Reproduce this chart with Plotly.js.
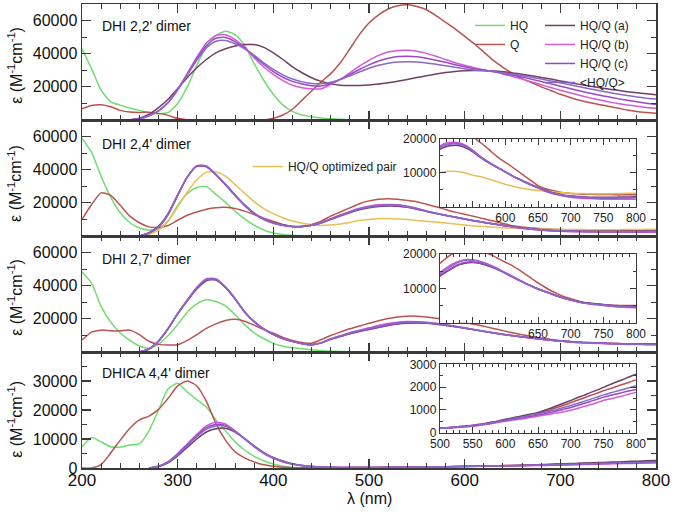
<!DOCTYPE html>
<html>
<head>
<meta charset="utf-8">
<script src="https://cdn.plot.ly/plotly-3.0.1.min.js"></script>
<style>html,body{margin:0;padding:0;background:#fff;}#chart{width:675px;height:512px;}</style>
</head>
<body>
<div id="chart"></div>
<script>
const _ = null;
// wavelength grid (nm)
const WL = [200,210,220,230,240,250,260,270,280,290,300,310,320,330,340,350,360,370,380,390,400,410,420,430,440,450,460,470,480,490,500,510,520,530,540,550,560,570,580,590,600,610,620,630,640,650,660,670,680,690,700,710,720,730,740,750,760,770,780,790,800];

// Panel 1: DHI 2,2' dimer
const p1_HQ  = [43000,31000,18000,11000,9000,7200,5800,4700,3800,4500,10000,20000,33000,44000,51000,53500,51500,45000,34000,24000,15500,9000,5200,3000,2000,1200,700,400,200,100,0];
const p1_Q   = [6700,8800,9200,8000,5800,4800,4600,4600,4000,2800,1000,200,0,0,0,0,0,0,0,0,1000,3000,6500,12000,17500,23000,28000,34500,43000,51500,58500,63500,67000,69000,69500,68500,66500,63000,59000,55000,50500,46000,41000,36000,31800,28200,25000,22500,20000,17800,15500,13600,11900,10500,9400,8300,7200,6000,5100,4500,4000];
const p1_a   = [_,_,_,_,_,0,1000,3500,7500,12500,19000,25500,31500,36500,40500,43000,44700,45500,45500,43800,40500,36500,32000,28500,25500,23300,21800,21000,20800,20800,21100,21700,22500,23400,24500,25600,26700,27700,28600,29300,29700,29900,29900,29600,29100,28400,27600,26700,25700,24700,23600,22500,21500,20500,19600,18700,17900,17100,16400,15800,15200];
const p1_b   = [_,_,_,_,_,0,700,2500,5500,10500,18500,28000,38000,46500,51000,51500,48500,44000,37500,32000,27500,23800,21000,19500,18800,18800,21500,24500,28500,32500,36000,39000,41000,42000,42100,41500,40200,38500,36500,34600,33000,31600,30300,29200,27800,26300,24700,23000,21300,19600,18000,16400,14900,13500,12200,11000,10000,9100,8300,7600,7100];
const p1_c   = [_,_,_,_,_,0,700,2500,5500,10500,18300,27500,37000,45000,49300,49800,47300,43500,38500,33500,29200,25800,23300,21700,20700,20500,22000,24500,27500,30500,33300,35600,37300,38300,38500,38200,37300,36100,34800,33400,32100,30900,30000,29200,28200,27100,25900,24600,23200,21800,20400,19000,17600,16300,15100,14000,12900,11900,11000,10100,9300];
const p1_avg = [_,_,_,_,_,0,700,2500,5500,10500,18000,27000,36000,43500,47500,48000,46000,43000,39000,34500,30500,27200,24700,23000,22100,21900,22800,24500,26700,29000,31200,33000,34300,35000,35200,35000,34400,33600,32700,31800,30900,30200,29700,29200,28500,27700,26800,25800,24700,23600,22500,21300,20100,18900,17800,16700,15700,14800,13900,13200,12700];

// Panel 2: DHI 2,4' dimer
const p2_HQ  = [58900,50500,36000,23500,14000,8000,4800,3600,4300,9000,18500,25500,29300,29800,25100,20300,15000,10300,6500,3600,1800,900,400,100,0];
const p2_Q   = [10000,19000,26000,24500,18500,12000,8000,5500,5200,6300,9500,12500,14500,16200,17100,17300,16600,15000,13000,10800,8800,7000,5700,5800,7000,9000,12000,14500,17000,19500,21200,22200,22500,22200,21500,20700,19200,17700,16000,14400,13100,11800,10400,9000,7600,6200,5400,4900,4400,4100,3900,3800,3700,3700,3600,3600,3600,3500,3500,3500,3500];
const p2_a   = [_,_,_,_,_,_,0,2000,6000,13500,24800,35500,42000,41800,37000,31200,24800,18800,13800,10200,8000,6600,5800,5800,6500,7900,10000,12100,14000,15800,17000,17800,18100,18000,17300,16200,14800,13500,12400,11300,10300,9200,8300,7400,6500,5700,5000,4300,3800,3400,3200,3000,2900,2800,2800,2800,2800,2800,2900,2900,3000];
const p2_b   = [_,_,_,_,_,_,0,1700,5300,12800,24300,35500,42500,42300,37200,31000,24400,18400,13400,9900,7700,6400,5600,5600,6400,8000,10400,12700,14800,16700,18000,18800,19000,18800,18000,16700,15100,13700,12500,11300,10200,9100,8100,7200,6300,5500,4700,4000,3500,3100,2800,2600,2500,2400,2300,2200,2200,2200,2200,2200,2200];
const p2_c   = [_,_,_,_,_,_,0,1800,5500,13000,24500,35500,42300,42000,37000,31000,24500,18500,13500,10000,7800,6500,5700,5700,6500,8000,10300,12500,14500,16300,17600,18400,18700,18500,17700,16500,15000,13700,12500,11400,10300,9200,8200,7300,6400,5600,4800,4100,3600,3200,3000,2800,2700,2600,2500,2500,2500,2500,2600,2600,2700];
const p2_avg = [_,_,_,_,_,_,0,1800,5600,13100,24600,35500,42200,42000,37100,31100,24600,18600,13600,10100,7900,6500,5700,5700,6500,8000,10200,12400,14400,16200,17500,18300,18600,18400,17700,16500,15000,13700,12500,11400,10300,9200,8200,7300,6400,5600,4900,4200,3700,3300,3100,2900,2800,2700,2600,2600,2600,2600,2700,2700,2800];
const p2_opt = [_,_,_,_,_,_,0,1000,3500,9000,17500,26500,34000,38400,38600,36200,31000,25800,20700,16500,13500,11000,9000,7700,6800,6400,6700,7300,8200,9300,10000,10400,10500,10300,9900,9300,8900,8400,7800,7200,6600,6100,5700,5300,5000,4800,4600,4400,4200,4100,4000,3900,3900,3800,3800,3800,3800,3900,3900,4000,4000];

// Panel 3: DHI 2,7' dimer
const p3_HQ  = [48300,41500,27500,18000,11500,7000,3600,2300,4700,10000,16500,24000,29000,31500,30500,27800,22500,16500,11500,8000,5200,3500,2500,1900,1300,800,500,300,100];
const p3_Q   = [7200,12000,13200,12800,12800,13200,10500,6500,4600,4200,4400,7000,10500,14200,17000,19000,19700,18600,16200,13500,11300,8800,7000,5800,5300,7500,10000,12000,14000,15700,17300,18900,20200,21100,21600,21600,21100,20400,19600,18600,17600,16700,15500,14200,12900,11600,10400,9300,8400,7600,7000,6400,5900,5600,5400,5200,5100,5000,5000,5000,5000];
const p3_a   = [_,_,_,_,_,_,0,1900,6700,14200,23000,30800,38000,43000,43500,39000,32200,24300,18400,14000,10700,8200,6400,5100,4400,5500,7700,9300,11000,12400,13600,14800,16000,16900,17400,17500,17300,16800,16100,15300,14400,13400,12500,11600,10700,9900,9200,8500,7800,7200,6700,6300,5900,5700,5500,5300,5100,5000,4900,4800,4700];
const p3_b   = [_,_,_,_,_,_,0,1800,6600,14200,23300,31400,39000,44200,44300,39300,32200,24200,18300,13900,10600,8100,6400,5100,4400,5600,8000,9900,11700,13200,14600,16000,17200,18000,18400,18300,17900,17300,16500,15600,14600,13600,12600,11600,10700,9900,9100,8400,7700,7100,6600,6100,5700,5400,5200,5000,4800,4600,4500,4400,4300];
const p3_c   = [_,_,_,_,_,_,0,1800,6500,14000,23000,31000,38500,43500,43800,39000,32000,24000,18200,13800,10500,8000,6300,5000,4300,5500,7800,9500,11200,12600,13800,15000,16200,17100,17600,17700,17400,16900,16200,15300,14400,13400,12400,11500,10600,9800,9100,8400,7700,7100,6600,6200,5800,5600,5400,5200,5000,4900,4800,4700,4600];
const p3_avg = [_,_,_,_,_,_,0,1800,6500,14100,23200,31200,38800,43900,44000,39100,32100,24100,18200,13800,10500,8000,6300,5000,4300,5500,7900,9700,11500,12900,14300,15600,16800,17700,18200,18200,17800,17200,16400,15500,14500,13500,12500,11500,10600,9800,9100,8400,7700,7100,6600,6100,5700,5500,5300,5100,4900,4800,4700,4600,4500];

// Panel 4: DHICA 4,4' dimer
const p4_HQ  = [7300,10500,9000,7300,7200,7900,8300,12800,20000,27300,29200,26200,23600,21000,16600,12800,9000,6200,4000,2500,1400,600,200,0];
const p4_Q   = [0,0,1200,5200,9600,13700,16600,17900,20200,24000,28300,30000,28300,23000,15300,9600,5600,3500,2100,1100,600,250,80,60,60,70,90,110,130,160,190,210,230,250,270,300,340,390,440,500,560,610,670,730,790,850,930,1020,1110,1210,1310,1420,1520,1630,1730,1840,1930,2030,2130,2220,2320];
const p4_a   = [_,_,_,_,_,_,_,0,500,1800,4200,7100,10000,12400,13500,13700,12400,10100,7600,5300,3600,2400,1500,900,550,340,240,195,180,180,190,210,235,260,290,320,360,410,460,520,580,640,700,760,820,880,980,1080,1190,1300,1410,1530,1640,1760,1870,1990,2110,2230,2340,2460,2570];
const p4_b   = [_,_,_,_,_,_,_,0,600,2200,5000,8300,11600,14500,15800,15200,12800,10000,7300,5000,3300,2100,1300,800,500,300,220,180,170,170,180,190,210,230,250,280,310,350,400,450,500,540,580,620,670,720,770,820,870,920,980,1060,1140,1220,1310,1410,1480,1550,1620,1700,1770];
const p4_c   = [_,_,_,_,_,_,_,0,600,2100,4800,8000,11200,13900,15000,14700,12700,10100,7400,5100,3400,2200,1400,850,520,320,230,190,175,175,185,200,220,240,265,295,330,370,420,470,520,570,620,670,720,770,830,890,960,1030,1100,1190,1280,1370,1460,1560,1630,1700,1770,1840,1900];
const p4_avg = [_,_,_,_,_,_,_,0,550,2000,4600,7700,10800,13400,14500,14400,12600,10100,7500,5200,3500,2300,1400,850,520,320,230,190,175,175,185,200,225,250,275,300,340,380,430,490,540,600,650,710,770,830,890,960,1030,1110,1190,1280,1370,1460,1560,1660,1740,1820,1900,1980,2060];

// tick values
const Y_TICKS_DHI = [20000,40000,60000];
const Y_TICKS_DHICA = [0,10000,20000,30000];
const INSET_X = [500,550,600,650,700,750,800];

const NAMES = {HQ:'HQ', Q:'Q', a:'HQ/Q (a)', b:'HQ/Q (b)', c:'HQ/Q (c)', avg:'&lt;HQ/Q&gt;', opt:'HQ/Q optimized pair'};
const COL = {HQ:'#72dc72', Q:'#b85450', a:'#6f3f63', b:'#d45ad8', c:'#9a48c8', avg:'#8a68c6', opt:'#e8bf55'};
const LEG = {HQ:'legend', Q:'legend', a:'legend2', b:'legend2', c:'legend2', avg:'legend2', opt:'legend3'};

const panels = [
  {xa:'x',  ya:'y',  inset:null, data:{HQ:p1_HQ, Q:p1_Q, a:p1_a, b:p1_b, c:p1_c, avg:p1_avg}, legend:true},
  {xa:'x2', ya:'y2', inset:['x5','y5'], data:{HQ:p2_HQ, Q:p2_Q, opt:p2_opt, a:p2_a, b:p2_b, c:p2_c, avg:p2_avg}, legend:false},
  {xa:'x3', ya:'y3', inset:['x6','y6'], data:{HQ:p3_HQ, Q:p3_Q, a:p3_a, b:p3_b, c:p3_c, avg:p3_avg}, legend:false},
  {xa:'x4', ya:'y4', inset:['x7','y7'], data:{HQ:p4_HQ, Q:p4_Q, a:p4_a, b:p4_b, c:p4_c, avg:p4_avg}, legend:false}
];

const traces = [];
function mk(xa, ya, key, y, show) {
  return {type:'scatter', mode:'lines', x:WL, y:y, xaxis:xa, yaxis:ya,
    name:NAMES[key], legend:LEG[key], showlegend:show,
    line:{color:COL[key], width:1.5, shape:'spline', smoothing:0.6},
    hoverinfo:'skip'};
}
panels.forEach(p => {
  Object.keys(p.data).forEach(k => {
    const show = (p.legend && k !== 'opt') || k === 'opt';
    traces.push(mk(p.xa, p.ya, k, p.data[k], show));
  });
});
panels.forEach(p => {
  if (!p.inset) return;
  Object.keys(p.data).forEach(k => {
    if (k === 'HQ') return;
    traces.push(mk(p.inset[0], p.inset[1], k, p.data[k], false));
  });
});

const AX = '#3a3a3a';
function mainX(anchor, labels) {
  return {domain:[0,1], anchor:anchor, range:[200,800], tickmode:'linear', tick0:200, dtick:100,
    ticks:'inside', ticklen:9, tickwidth:1.2, tickcolor:AX,
    minor:{tickmode:'linear', tick0:200, dtick:20, ticks:'inside', ticklen:5, tickwidth:1, tickcolor:AX},
    showline:true, linecolor:AX, linewidth:1.5, mirror:'allticks', showgrid:false, zeroline:false,
    showticklabels:labels, ticklabelstandoff:-4, tickfont:{size:17, color:'#111'}};
}
function mainY(anchor, dom, top, vals, minorStep) {
  return {domain:dom, anchor:anchor, range:[0,top], tickmode:'array', tickvals:vals,
    ticktext: vals.map(v => String(v)),
    ticks:'inside', ticklen:9, tickwidth:1.2, tickcolor:AX,
    minor:{tickmode:'linear', tick0:0, dtick:minorStep, ticks:'inside', ticklen:5, tickwidth:1, tickcolor:AX},
    showline:true, linecolor:AX, linewidth:1.5, mirror:'allticks', showgrid:false, zeroline:false,
    tickfont:{size:16, color:'#111'}};
}
function insetX(anchor, labels) {
  return {domain:[0.6237,0.9652], anchor:anchor, range:[500,800], tickmode:'array', tickvals:INSET_X,
    ticktext: INSET_X.map(v => labels.indexOf(v) >= 0 ? String(v) : ' '),
    ticks:'inside', ticklen:6, tickwidth:1, tickcolor:AX,
    minor:{tickmode:'linear', tick0:500, dtick:10, ticks:'inside', ticklen:3, tickwidth:1, tickcolor:AX},
    showline:true, linecolor:AX, linewidth:1.2, mirror:'allticks', showgrid:false, zeroline:false,
    tickfont:{size:12, color:'#222'}};
}
function insetY(anchor, dom, top, vals, labels, minorStep) {
  return {domain:dom, anchor:anchor, range:[0,top], tickmode:'array', tickvals:vals,
    ticktext: vals.map(v => labels.indexOf(v) >= 0 ? String(v) : ' '),
    ticks:'inside', ticklen:6, tickwidth:1, tickcolor:AX,
    minor:{tickmode:'linear', tick0:0, dtick:minorStep, ticks:'inside', ticklen:3, tickwidth:1, tickcolor:AX},
    showline:true, linecolor:AX, linewidth:1.2, mirror:'allticks', showgrid:false, zeroline:false,
    tickfont:{size:12, color:'#222'}};
}

const ytitle = 'ε (M<sup>-1</sup>cm<sup>-1</sup>)';
function yAnn(y) {
  return {xref:'paper', yref:'paper', x:-0.117, y:y, text:ytitle, textangle:-90, showarrow:false,
    xanchor:'center', yanchor:'middle', font:{size:16, color:'#111'}};
}
function pAnn(y, t) {
  return {xref:'paper', yref:'paper', x:0.031, y:y, text:t, showarrow:false,
    xanchor:'left', yanchor:'middle', font:{size:14, color:'#111'}};
}
const legBase = {xanchor:'left', yanchor:'top', bgcolor:'rgba(0,0,0,0)', borderwidth:0,
  font:{size:12, color:'#222'}, tracegroupgap:0, itemwidth:30};

const layout = {
  width:675, height:512,
  margin:{l:82, r:19, t:4, b:44},
  paper_bgcolor:'#ffffff', plot_bgcolor:'#ffffff',
  font:{family:'Liberation Sans, Arial, Helvetica, sans-serif', color:'#111'},
  showlegend:true,
  legend: Object.assign({}, legBase, {x:0.676, y:0.985}),
  legend2: Object.assign({}, legBase, {x:0.798, y:0.985}),
  legend3: Object.assign({}, legBase, {x:0.289, y:0.681}),
  xaxis: mainX('y', false),
  xaxis2: mainX('y2', false),
  xaxis3: mainX('y3', false),
  xaxis4: mainX('y4', true),
  yaxis: mainY('x', [0.75,1], 70000, Y_TICKS_DHI, 10000),
  yaxis2: mainY('x2', [0.5,0.75], 70000, Y_TICKS_DHI, 10000),
  yaxis3: mainY('x3', [0.25,0.5], 70000, Y_TICKS_DHI, 10000),
  yaxis4: mainY('x4', [0,0.25], 40000, Y_TICKS_DHICA, 5000),
  xaxis5: insetX('y5', [600,650,700,750,800]),
  yaxis5: insetY('x5', [0.5631,0.7091], 20000, [0,10000,20000], [10000,20000], 5000),
  xaxis6: insetX('y6', [650,700,750,800]),
  yaxis6: insetY('x6', [0.3131,0.4612], 20000, [0,10000,20000], [10000,20000], 5000),
  xaxis7: insetX('y7', INSET_X),
  yaxis7: insetY('x7', [0.0765,0.2231], 3000, [0,1000,2000,3000], [0,1000,2000,3000], 500),
  annotations:[
    yAnn(0.8685), yAnn(0.614), yAnn(0.3685), yAnn(0.1056),
    pAnn(0.9526, "DHI 2,2' dimer"), pAnn(0.6983, "DHI 2,4' dimer"),
    pAnn(0.4504, "DHI 2,7' dimer"), pAnn(0.2047, "DHICA 4,4' dimer"),
    {xref:'paper', yref:'paper', x:0.5, y:-0.066, text:'λ (nm)', showarrow:false,
     xanchor:'center', yanchor:'middle', font:{size:16, color:'#111'}}
  ]
};

Plotly.newPlot('chart', traces, layout, {displayModeBar:false, staticPlot:true});
</script>
</body>
</html>
